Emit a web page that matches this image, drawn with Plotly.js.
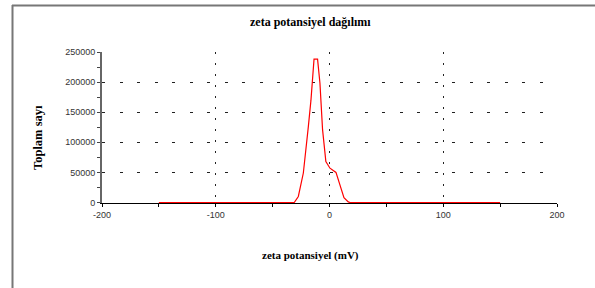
<!DOCTYPE html>
<html>
<head>
<meta charset="utf-8">
<script src="https://cdn.plot.ly/plotly-3.0.1.min.js"></script>
<style>html,body{margin:0;padding:0;background:#fff;}#chart{width:595px;height:288px;}</style>
</head>
<body>
<div id="chart"></div>
<script>
// zeta potential (mV) and total count
const zeta = [-150, -31, -27.4, -23, -18.6, -16.3, -13.6, -10.5, -8.4, -6.1, -3.2, 0.4, 5.7, 9.2, 12.7, 16.5, 18, 150];
const counts = [0, 0, 10000, 49000, 126000, 170000, 238000, 238000, 198000, 121000, 68000, 57000, 50000, 27000, 8000, 1000, 0, 0];
const xTicks = [-200, -100, 0, 100, 200];
const yTicks = [0, 50000, 100000, 150000, 200000, 250000];
const chartTitle = 'zeta potansiyel dağılımı';
const xTitle = 'zeta potansiyel (mV)';
const yTitle = 'Toplam sayı';

const L = 102, R = 557, T = 52, B = 203;
const px = v => (v - L) / (R - L);
const py = v => (B - v) / (B - T);

const serif = 'Liberation Serif, Times New Roman, serif';
const sans = 'Liberation Sans, Arial, sans-serif';

const data = [{
  type: 'scatter', mode: 'lines',
  x: zeta, y: counts,
  line: {color: '#ff0000', width: 1.2},
  hoverinfo: 'skip'
}];

const layout = {
  width: 595, height: 288,
  margin: {l: L, r: 595 - R, t: T, b: 288 - B},
  paper_bgcolor: '#ffffff', plot_bgcolor: '#ffffff',
  showlegend: false,
  xaxis: {
    range: [-200, 200], tickvals: xTicks, ticktext: xTicks.map(String),
    showgrid: true, gridcolor: '#222', gridwidth: 1, griddash: '2px,9px',
    zeroline: false, showline: true, linecolor: '#000', linewidth: 1,
    ticks: 'outside', ticklen: 3, tickcolor: '#000',
    minor: {dtick: 50, tick0: 0, ticks: 'outside', ticklen: 3, tickcolor: '#000', showgrid: false},
    tickfont: {family: sans, size: 9, color: '#333'},
    layer: 'below traces', fixedrange: true
  },
  yaxis: {
    range: [-800, 250000], tickvals: yTicks, ticktext: yTicks.map(String),
    showgrid: true, gridcolor: '#222', gridwidth: 1, griddash: '3px,14.5px',
    zeroline: false, showline: true, linecolor: '#666', linewidth: 2,
    ticks: 'outside', ticklen: 3, tickcolor: '#444',
    minor: {dtick: 25000, tick0: 0, ticks: 'outside', ticklen: 3, tickcolor: '#444', showgrid: false},
    tickfont: {family: sans, size: 9, color: '#333'},
    layer: 'below traces', fixedrange: true
  },
  annotations: [
    {text: '<b>' + chartTitle + '</b>', xref: 'paper', yref: 'paper', x: px(310), y: py(22),
     xanchor: 'center', yanchor: 'middle', showarrow: false, font: {family: serif, size: 12, color: '#000'}},
    {text: '<b>' + xTitle + '</b>', xref: 'paper', yref: 'paper', x: px(310), y: py(255),
     xanchor: 'center', yanchor: 'middle', showarrow: false, font: {family: serif, size: 11, color: '#000'}},
    {text: '<b>' + yTitle + '</b>', xref: 'paper', yref: 'paper', x: px(38), y: py(138),
     xanchor: 'center', yanchor: 'middle', textangle: -90, showarrow: false, font: {family: serif, size: 12.5, color: '#000'}}
  ],
  shapes: [
    {type: 'line', xref: 'paper', yref: 'paper', x0: px(12.5), x1: px(12.5), y0: py(5), y1: py(292), line: {color: '#777', width: 2}},
    {type: 'line', xref: 'paper', yref: 'paper', x0: px(12), x1: px(600), y0: py(5.5), y1: py(5.5), line: {color: '#777', width: 2}}
  ]
};

Plotly.newPlot('chart', data, layout, {staticPlot: true, displayModeBar: false});
</script>
</body>
</html>
